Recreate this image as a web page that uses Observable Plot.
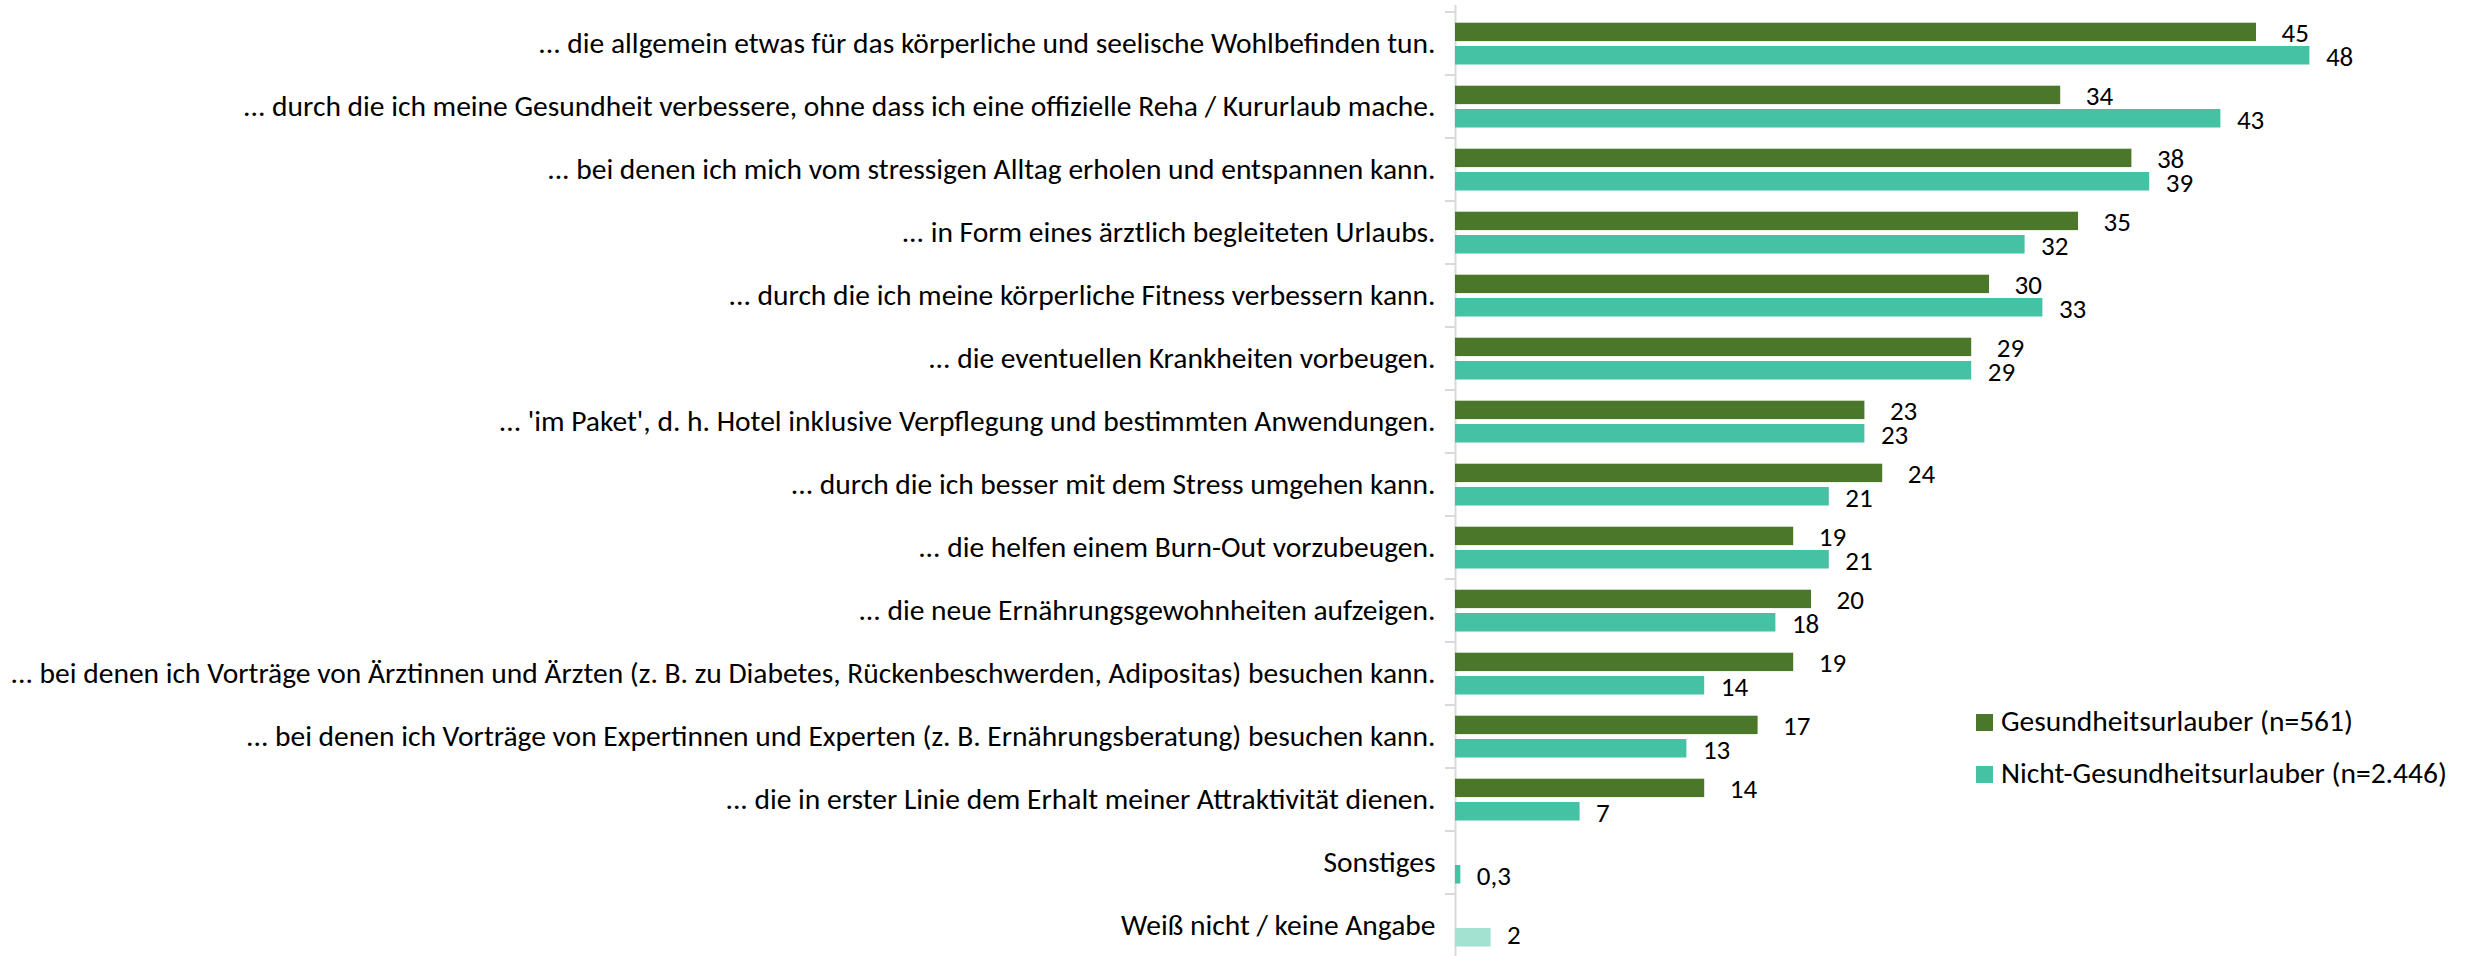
<!DOCTYPE html>
<html>
<head>
<meta charset="utf-8">
<script src="https://cdn.jsdelivr.net/npm/d3@7"></script>
<script src="https://cdn.jsdelivr.net/npm/@observablehq/plot@0.6"></script>
<style>
  html, body { margin: 0; padding: 0; background: #fff; overflow: hidden; }
  #wrap { position: relative; width: 2470px; height: 956px; overflow: hidden; font-family: Carlito, Calibri, Lato, sans-serif; }
  #wrap svg { display: block; }
  .legend { position: absolute; left: 1976px; top: 0; font-size: 29.5px; color: #000; line-height: 1; }
  .legend .item { position: absolute; left: 0; white-space: nowrap; display: flex; align-items: center; height: 30px; }
  .legend .sw { width: 17px; height: 17px; margin-right: 8px; flex: none; }
</style>
</head>
<body>
<div id="wrap"></div>
<script>
const categories = [
  "... die allgemein etwas für das körperliche und seelische Wohlbefinden tun.",
  "... durch die ich meine Gesundheit verbessere, ohne dass ich eine offizielle Reha / Kururlaub mache.",
  "... bei denen ich mich vom stressigen Alltag erholen und entspannen kann.",
  "... in Form eines ärztlich begleiteten Urlaubs.",
  "... durch die ich meine körperliche Fitness verbessern kann.",
  "... die eventuellen Krankheiten vorbeugen.",
  "... 'im Paket', d. h. Hotel inklusive Verpflegung und bestimmten Anwendungen.",
  "... durch die ich besser mit dem Stress umgehen kann.",
  "... die helfen einem Burn-Out vorzubeugen.",
  "... die neue Ernährungsgewohnheiten aufzeigen.",
  "... bei denen ich Vorträge von Ärztinnen und Ärzten (z. B. zu Diabetes, Rückenbeschwerden, Adipositas) besuchen kann.",
  "... bei denen ich Vorträge von Expertinnen und Experten (z. B. Ernährungsberatung) besuchen kann.",
  "... die in erster Linie dem Erhalt meiner Attraktivität dienen.",
  "Sonstiges",
  "Weiß nicht / keine Angabe"
];
const seriesNames = ["Gesundheitsurlauber (n=561)", "Nicht-Gesundheitsurlauber (n=2.446)"];
// Gesundheitsurlauber: values for the first 13 categories
const gesundValues = [45, 34, 38, 35, 30, 29, 23, 24, 19, 20, 19, 17, 14];
// Nicht-Gesundheitsurlauber: values for all 15 categories
const nichtValues = [48, 43, 39, 32, 33, 29, 23, 21, 21, 18, 14, 13, 7, 0.3, 2];
const colors = ["#4A7729", "#45C1A3", "#A3E1D1"];

const greenRows = gesundValues.map((v, i) => ({category: categories[i], value: v, kind: "g"}));
const tealRows = nichtValues.map((v, i) => ({
  category: categories[i], value: v,
  kind: categories[i] === "Weiß nicht / keine Angabe" ? "k" : "n"
}));
const fmt = v => v.toLocaleString("de-DE");
const FONT = "Carlito, Calibri, Lato, sans-serif";
const FS = 29.5;
const VFS = 27;

const chart = Plot.plot({
  width: 2470,
  height: 964,
  marginLeft: 1455,
  marginRight: 125,
  marginTop: 5,
  marginBottom: 0,
  style: {fontFamily: FONT, fontSize: FS + "px", color: "#000", background: "#fff"},
  x: {domain: [0, 50], axis: null},
  y: {domain: categories, type: "band", padding: 0, axis: null},
  color: {domain: ["g", "n", "k"], range: colors},
  marks: [
    Plot.ruleX([0], {stroke: "#d9d9d9", strokeWidth: 2}),
    Plot.axisY({tickSize: 10, text: null, label: null, stroke: "#d9d9d9", strokeWidth: 2, dy: -31.95}),
    Plot.axisY({tickSize: 0, tickPadding: 20, label: null, fontSize: FS, fill: "#000", fontFamily: FONT}),
    Plot.barX(greenRows, {x: "value", y: "category", fill: "kind", insetTop: 10.7, insetBottom: 33.9}),
    Plot.barX(tealRows, {x: "value", y: "category", fill: "kind", insetTop: 34, insetBottom: 10.5}),
    Plot.text(greenRows, {x: "value", y: "category", text: d => fmt(d.value), textAnchor: "start", dx: 25, dy: -11, fill: "#000", fontSize: VFS}),
    Plot.text(tealRows.filter(d => d.kind === "n"), {x: "value", y: "category", text: d => fmt(d.value), textAnchor: "start", dx: 16, dy: 13, fill: "#000", fontSize: VFS}),
    Plot.text(tealRows.filter(d => d.kind === "k"), {x: "value", y: "category", text: d => fmt(d.value), textAnchor: "start", dx: 16, dy: 9.5, fill: "#000", fontSize: VFS})
  ]
});
const wrap = document.getElementById("wrap");
wrap.appendChild(chart);

const legend = document.createElement("div");
legend.className = "legend";
seriesNames.forEach((name, i) => {
  const item = document.createElement("div");
  item.className = "item";
  item.style.top = (i === 0 ? 707 : 759) + "px";
  const sw = document.createElement("span");
  sw.className = "sw";
  sw.style.background = colors[i];
  const tx = document.createElement("span");
  tx.textContent = name;
  item.appendChild(sw);
  item.appendChild(tx);
  legend.appendChild(item);
});
wrap.appendChild(legend);
</script>
</body>
</html>
